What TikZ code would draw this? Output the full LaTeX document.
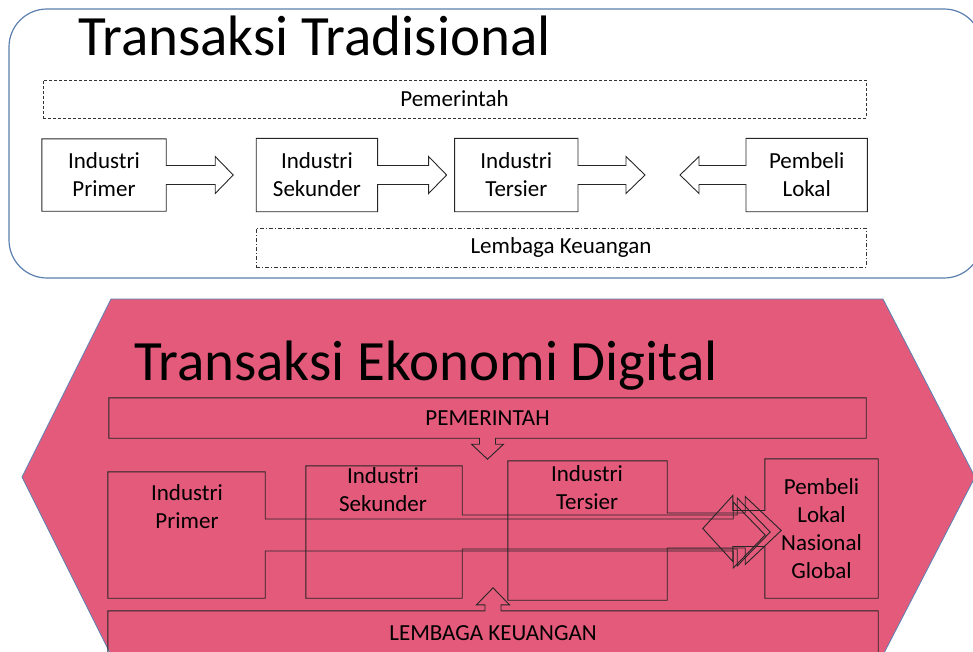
\documentclass[tikz,border=0pt]{standalone}
\usepackage{fontspec}
\setmainfont{Carlito}
\usetikzlibrary{calc}
\usetikzlibrary{positioning}

\definecolor{frameblue}{HTML}{5B7FAE}
\definecolor{hexpink}{HTML}{E35A7B}
\definecolor{hexline}{HTML}{5A82B4}

\tikzset{every picture/.style={/utils/exec={\fontsize{23}{28}\selectfont}}}
\tikzset{
  title/.style={font=\fontsize{57}{62}\selectfont, anchor=base west, inner sep=0},
  blk/.style={inner sep=0, align=center},
  lin/.style={draw=black!85, line width=0.9pt},
  dashbox/.style={blk, draw=black!80, line width=0.8pt, dash pattern=on 3pt off 2pt},
  dotbox/.style={blk, draw=black!80, line width=0.8pt, dash pattern=on 4pt off 2pt on 1pt off 2pt},
}

% box outline with a block arrow: node, shaft length, head length, shaft half, head half
\newcommand\arrowR[5]{\draw[lin] (#1.north west) -- (#1.north east) -- ([yshift=#4]#1.east)
  -- ++(#2,0) -- ++(0,#5-#4) -- ++(#3,-#5) -- ++(-#3,-#5) -- ++(0,#5-#4)
  -- ([yshift=-#4]#1.east) -- (#1.south east) -- (#1.south west) -- cycle;}
\newcommand\arrowL[5]{\draw[lin] (#1.north east) -- (#1.north west) -- ([yshift=#4]#1.west)
  -- ++(-#2,0) -- ++(0,#5-#4) -- ++(-#3,-#5) -- ++(#3,-#5) -- ++(0,#5-#4)
  -- ([yshift=-#4]#1.west) -- (#1.south west) -- (#1.south east) -- cycle;}
\newcommand\arrowD[5]{\draw[lin] (#1.north west) -- (#1.north east) -- (#1.south east)
  -- ([xshift=#4]#1.south) -- ++(0,-#2) -- ++(#5-#4,0) -- ++(-#5,-#3) -- ++(-#5,#3)
  -- ++(#5-#4,0) -- ([xshift=-#4]#1.south) -- (#1.south west) -- cycle;}
\newcommand\arrowU[5]{\draw[lin] (#1.south west) -- (#1.south east) -- (#1.north east)
  -- ([xshift=#4]#1.north) -- ++(0,#2) -- ++(#5-#4,0) -- ++(-#5,#3) -- ++(-#5,-#3)
  -- ++(#5-#4,0) -- ([xshift=-#4]#1.north) -- (#1.north west) -- cycle;}

\begin{document}
\begin{tikzpicture}[x=1pt, y=1pt]
  \useasboundingbox (0,0) rectangle (973,-651);

  % traditional
  \draw[frameblue, line width=1.2pt, rounded corners=38] (9,-9) rectangle (982,-278);
  \node[title] (trad) at (78,-55) {Transaksi Tradisional};

  \node[dashbox, minimum width=823, minimum height=38] (pem) at (454.5,-99) {Pemerintah};

  \node[blk, minimum width=124, minimum height=72] (prim) at (104,-175) {Industri\\Primer};
  \node[blk, minimum width=121, minimum height=73, right=90 of prim] (sek) {Industri\\Sekunder};
  \node[blk, minimum width=123, minimum height=73, right=77 of sek] (ter) {Industri\\Tersier};
  \node[blk, minimum width=121, minimum height=73, right=168 of ter] (pemb) {Pembeli\\Lokal};

  \arrowR{prim}{49}{18}{9.5}{18.5}
  \arrowR{sek}{51}{18}{9.5}{18.5}
  \arrowR{ter}{48}{19}{9.5}{18.5}
  \arrowL{pemb}{47}{19}{9.5}{18.5}

  \node[dotbox, minimum width=610, minimum height=39] (lem) at (561,-247.5) {Lembaga Keuangan};

  % digital
  \draw[hexline, fill=hexpink, line width=0.8pt] (111,-299) -- (883,-299) -- (975,-477)
    -- (883,-655) -- (111,-655) -- (22,-477) -- cycle;
  \node[title] (digi) at (134,-380) {Transaksi Ekonomi Digital};

  \node[blk, minimum width=757, minimum height=40] (pem2) at (487.5,-418) {PEMERINTAH};
  \arrowD{pem2}{6}{15}{8}{16}

  \node[blk, minimum width=157, minimum height=126] (prim2) at (186.5,-535) {};
  \node[blk, minimum width=156, minimum height=132] (sek2) at (384,-532) {};
  \node[blk, minimum width=159, minimum height=139] (ter2) at (587.5,-530.5) {};
  \node[blk, minimum width=113, minimum height=139] (pemb2) at (821.5,-528.5)
    {Pembeli\\Lokal\\Nasional\\Global};

  \node[blk] (prim2t) at (187,-507) {Industri\\Primer};
  \node[blk] (sek2t) at (383,-490) {Industri\\Sekunder};
  \node[blk] (ter2t) at (587,-488) {Industri\\Tersier};

  \arrowR{prim2}{468}{32}{16}{33}
  \arrowR{sek2}{275}{33}{17}{34}
  \arrowR{ter2}{78}{36}{17.5}{34}
  \arrowL{pemb2}{32}{30}{18}{33}

  \node[blk, minimum width=770, minimum height=45] (lem2) at (493,-633.5) {LEMBAGA KEUANGAN};
  \arrowU{lem2}{6}{17}{8}{16.5}
\end{tikzpicture}
\end{document}
